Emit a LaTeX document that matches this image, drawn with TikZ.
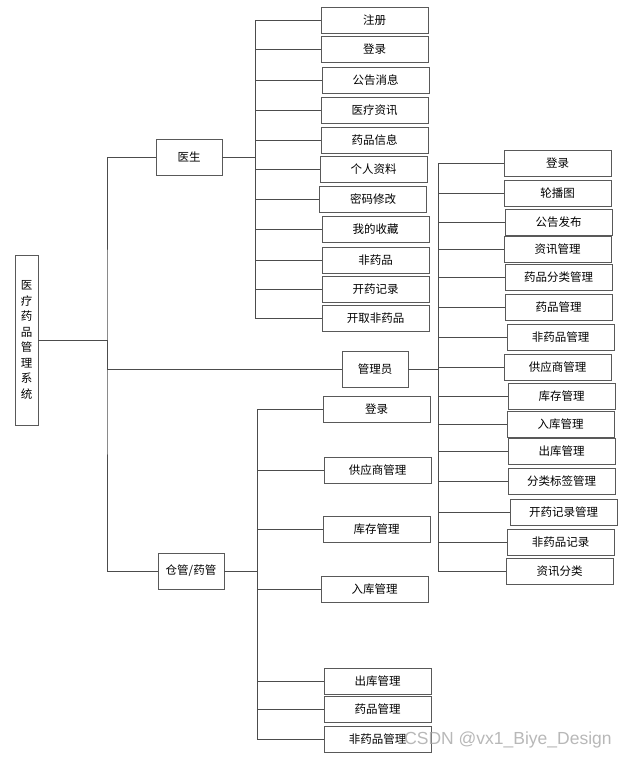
\documentclass[tikz,border=0pt]{standalone}
\usepackage{fontspec}
\newfontfamily\cjk{Noto Sans CJK SC}
\newfontfamily\wmfont{Liberation Sans}
\begin{document}
\begin{tikzpicture}[x=1pt, y=-1pt, line width=0.8pt, draw=black!70,
    item/.style={draw=black!65, minimum width=107pt, minimum height=26pt, inner sep=0pt, font=\cjk\fontsize{11.5}{13}\selectfont},
    role/.style={draw=black!65, minimum width=66pt, minimum height=36pt, inner sep=0pt, font=\cjk\fontsize{11.5}{13}\selectfont}]
\useasboundingbox (0,0) rectangle (631,760);
\node [draw=black!65, minimum width=23pt, minimum height=170pt, inner sep=0pt, align=center, font=\cjk\fontsize{11.5}{15.5}\selectfont](sys) at (26.5,340) {医\\疗\\药\\品\\管\\理\\系\\统};
% roles
\node [role](doc) at (189,157) {医生};
\node [role](adm) at (375,369) {管理员};
\node [role](war) at (191,571) {仓管/药管};
\coordinate (trunk) at (107,340);
\coordinate (dsp) at (255,157);
\coordinate (asp) at (438,369);
\coordinate (wsp) at (257,571);
% doctor
\node [item](d1) at (374.5,20) {注册};
\node [item](d2) at (374.5,49) {登录};
\node [item](d3) at (375.5,80) {公告消息};
\node [item](d4) at (374.5,110) {医疗资讯};
\node [item](d5) at (374.5,140) {药品信息};
\node [item](d6) at (373.5,169) {个人资料};
\node [item](d7) at (373,199) {密码修改};
\node [item](d8) at (375.5,229) {我的收藏};
\node [item](d9) at (375.5,260) {非药品};
\node [item](d10) at (375.5,289) {开药记录};
\node [item](d11) at (375.5,318) {开取非药品};
% admin
\node [item](a1) at (557.5,163) {登录};
\node [item](a2) at (557.5,193) {轮播图};
\node [item](a3) at (558.5,222) {公告发布};
\node [item](a4) at (557.5,249) {资讯管理};
\node [item](a5) at (558.5,277) {药品分类管理};
\node [item](a6) at (558.5,307) {药品管理};
\node [item](a7) at (560.5,337) {非药品管理};
\node [item](a8) at (557.5,367) {供应商管理};
\node [item](a9) at (561.5,396) {库存管理};
\node [item](a10) at (560.5,424) {入库管理};
\node [item](a11) at (561.5,451.5) {出库管理};
\node [item](a12) at (561.5,481) {分类标签管理};
\node [item](a13) at (563.5,512) {开药记录管理};
\node [item](a14) at (560.5,542) {非药品记录};
\node [item](a15) at (559.5,571) {资讯分类};
% warehouse
\node [item](w1) at (376.5,409) {登录};
\node [item](w2) at (377.5,470) {供应商管理};
\node [item](w3) at (376.5,529) {库存管理};
\node [item](w4) at (374.5,589) {入库管理};
\node [item](w5) at (377.5,681) {出库管理};
\node [item](w6) at (377.5,709) {药品管理};
\node [item](w7) at (377.5,739) {非药品管理};
\draw (sys) -- (trunk)
      (doc) -| (trunk) |- (war)
      (trunk) |- (adm)
      (doc) -- (dsp) (adm) -- (asp) (war) -- (wsp);
\draw (dsp) |- (d1) (dsp) |- (d2) (dsp) |- (d3) (dsp) |- (d4) (dsp) |- (d5) (dsp) |- (d6)
      (dsp) |- (d7) (dsp) |- (d8) (dsp) |- (d9) (dsp) |- (d10) (dsp) |- (d11);
\draw (asp) |- (a1) (asp) |- (a2) (asp) |- (a3) (asp) |- (a4) (asp) |- (a5) (asp) |- (a6)
      (asp) |- (a7) (asp) |- (a8) (asp) |- (a9) (asp) |- (a10) (asp) |- (a11) (asp) |- (a12)
      (asp) |- (a13) (asp) |- (a14) (asp) |- (a15);
\draw (wsp) |- (w1) (wsp) |- (w2) (wsp) |- (w3) (wsp) |- (w4) (wsp) |- (w5) (wsp) |- (w6) (wsp) |- (w7);
\node [text=black!35, opacity=0.8, font=\wmfont\fontsize{17.5}{20}\selectfont](wm) at (508,740) {CSDN @vx1\_Biye\_Design};
\end{tikzpicture}
\end{document}
